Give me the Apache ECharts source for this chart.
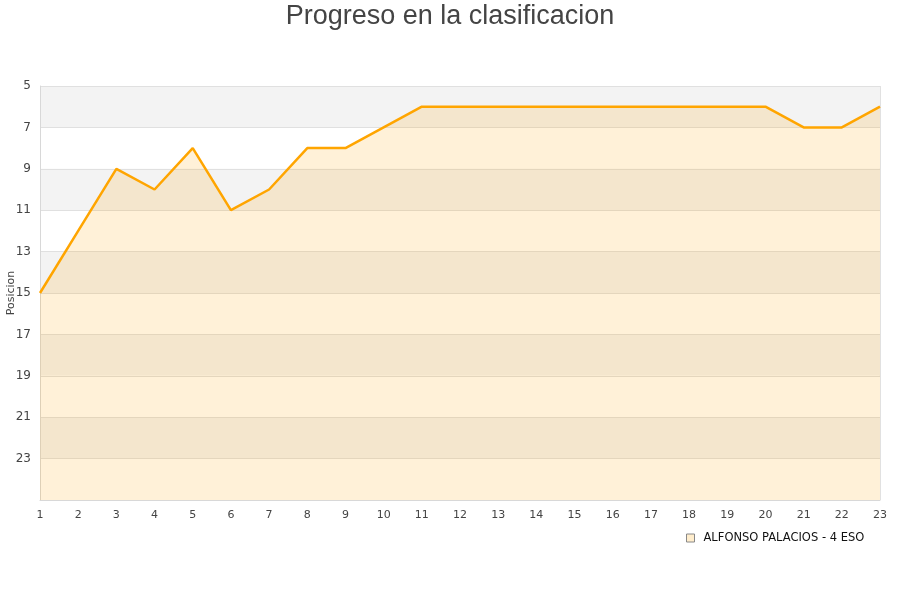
<!DOCTYPE html>
<html>
<head>
    <meta charset="UTF-8">
    <title>Progreso en la clasificacion</title>
    <script src="https://cdn.jsdelivr.net/npm/echarts@6/dist/echarts.min.js"></script>
    <style>
        html, body {margin: 0; padding: 0; background: #fff;}
        #chart {width: 900px; height: 600px;}
    </style>
</head>
<body>
<div id="chart"></div>
<script type="text/javascript">
    // jornadas y posiciones
    const jornadas = ['1', '2', '3', '4', '5', '6', '7', '8', '9', '10', '11', '12',
        '13', '14', '15', '16', '17', '18', '19', '20', '21', '22', '23'];
    const posiciones = [15, 12, 9, 10, 8, 11, 10, 8, 8, 7, 6, 6,
        6, 6, 6, 6, 6, 6, 6, 6, 7, 7, 6];
    const alumno = 'ALFONSO PALACIOS - 4 ESO';

    var chart = echarts.init(document.getElementById('chart'));
    var option = {
        animation: false,
        title: {
            text: 'Progreso en la clasificacion',
            left: 'center',
            top: -2,
            textStyle: {fontSize: 27, fontWeight: 'normal', color: '#444', fontFamily: 'Liberation Sans'}
        },
        legend: {
            data: [{
                name: alumno,
                icon: 'rect',
                itemStyle: {color: '#ffedcc', borderColor: '#888', borderWidth: 1}
            }],
            left: 681,
            top: 527,
            itemWidth: 8,
            itemHeight: 8,
            itemGap: 6,
            textStyle: {fontSize: 11.5, color: '#111', fontFamily: 'DejaVu Sans', padding: [0, 0, 0, 4]}
        },
        grid: {left: 40, right: 20, top: 86, bottom: 100, containLabel: false, outerBoundsMode: 'none'},
        xAxis: {
            type: 'category',
            data: jornadas,
            boundaryGap: false,
            axisLine: {lineStyle: {color: '#d8d8d8'}},
            axisTick: {show: false},
            axisLabel: {fontSize: 11, color: '#444', margin: 10, fontFamily: 'DejaVu Sans'},
            splitLine: {show: false}
        },
        yAxis: {
            type: 'value',
            inverse: true,
            min: 5,
            max: 25,
            interval: 2,
            name: 'Posicion',
            nameLocation: 'middle',
            nameGap: 23,
            nameMoveOverlap: false,
            nameTextStyle: {fontSize: 11, color: '#444', fontFamily: 'DejaVu Sans'},
            axisLine: {show: true, lineStyle: {color: '#d8d8d8'}},
            axisTick: {show: false},
            axisLabel: {
                fontSize: 12, color: '#444', margin: 9, fontFamily: 'DejaVu Sans',
                formatter: function (v) { return v === 25 ? '' : v; }
            },
            splitLine: {show: true, lineStyle: {color: '#e0e0e0'}},
            splitArea: {show: true, areaStyle: {color: ['#f3f3f3', '#ffffff']}}
        },
        series: [{
            name: alumno,
            type: 'line',
            data: posiciones,
            symbol: 'none',
            lineStyle: {color: '#ffa500', width: 2.5},
            itemStyle: {color: '#ffa500'},
            areaStyle: {color: 'rgba(255,165,0,0.22)', origin: 'end'}
        }],
        graphic: [{
            type: 'rect',
            shape: {x: 880, y: 86, width: 0, height: 414},
            style: {stroke: '#d8d8d8', lineWidth: 1, fill: null}
        }]
    };
    chart.setOption(option);
</script>
</body>
</html>
